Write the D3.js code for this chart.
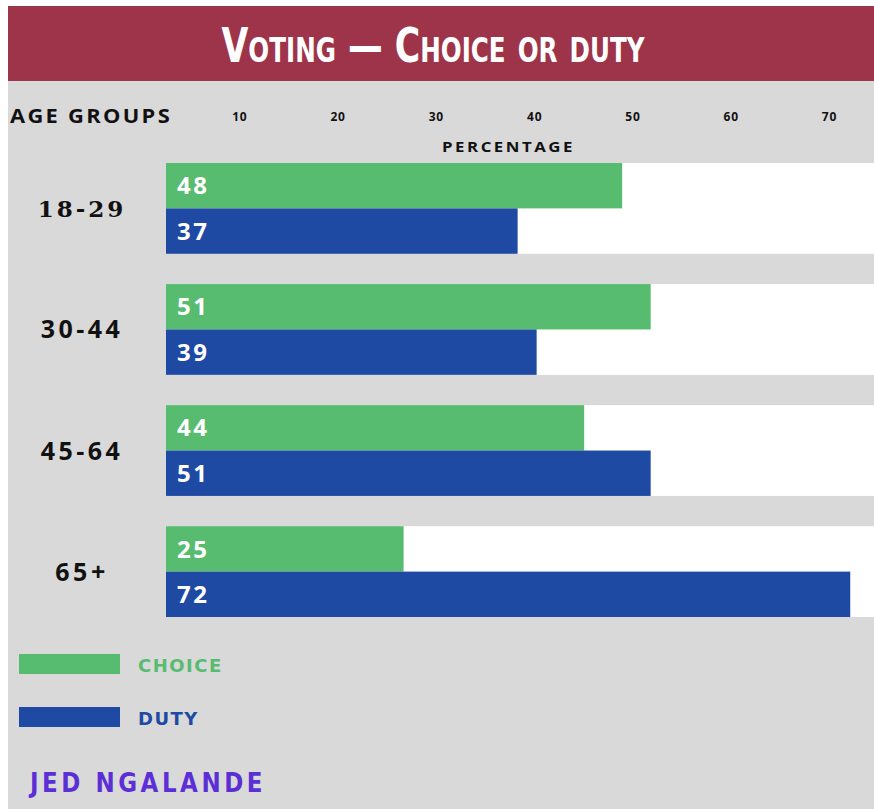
<!DOCTYPE html>
<html>
<head>
<meta charset="utf-8">
<script src="https://cdn.jsdelivr.net/npm/d3@7"></script>
<style>
  html, body { margin: 0; padding: 0; background: #ffffff; }
  svg { display: block; }
</style>
</head>
<body>
<div id="chart"></div>
<script>
// ---- data ----
const ageGroups = ["18-29", "30-44", "45-64", "65+"];
const seriesNames = ["CHOICE", "DUTY"];
const choiceValues = [48, 51, 44, 25];
const dutyValues = [37, 39, 51, 72];
const tickValues = [10, 20, 30, 40, 50, 60, 70];

const title = "Voting — Choice or duty";
const author = "JED NGALANDE";

const W = 874, H = 809;
const colors = { CHOICE: "#57bc6f", DUTY: "#1e4aa4" };
const banner = "#9e344a";
const bg = "#d9d9d9";

const svg = d3.select("#chart").append("svg")
  .attr("width", W).attr("height", H);

// background panels
svg.append("rect").attr("x", 0).attr("y", 0).attr("width", W).attr("height", H).attr("fill", "#ffffff");
svg.append("rect").attr("x", 8).attr("y", 80).attr("width", W - 8).attr("height", H - 80).attr("fill", bg);
svg.append("rect").attr("x", 8).attr("y", 6).attr("width", W - 8).attr("height", 75).attr("fill", banner);

// title
svg.append("text")
  .attr("x", 433).attr("y", 62)
  .attr("text-anchor", "middle")
  .attr("fill", "#ffffff")
  .style("font-family", "'DejaVu Sans Condensed', 'DejaVu Sans', sans-serif")
  .style("font-weight", "bold")
  .style("font-size", "48px")
  .style("font-variant", "small-caps")
  .attr("textLength", 423)
  .attr("lengthAdjust", "spacingAndGlyphs")
  .text(title);

// scales
const y = d3.scaleBand().domain(ageGroups).range([163, 617]).paddingInner(0.25).paddingOuter(0);
const ySub = d3.scaleBand().domain(seriesNames).range([0, y.bandwidth()]).padding(0);
const x = d3.scaleLinear().domain([0, 74.5]).range([166, 874]);
const xAxisScale = d3.scaleLinear().domain([0, 70]).range([141, 829]);

const sansBold = "'Open Sans', 'DejaVu Sans', sans-serif";

// header labels
svg.append("text")
  .attr("x", 10).attr("y", 123)
  .attr("fill", "#111")
  .style("font-family", sansBold).style("font-weight", "700")
  .style("font-size", "19px").style("letter-spacing", "2px")
  .attr("textLength", 162).attr("lengthAdjust", "spacingAndGlyphs")
  .text("AGE GROUPS");

// top axis tick labels
const axis = d3.axisTop(xAxisScale).tickValues(tickValues).tickSize(0).tickPadding(0);
const gAxis = svg.append("g").attr("transform", "translate(0,121)").call(axis);
gAxis.select(".domain").remove();
gAxis.selectAll("text")
  .attr("fill", "#111")
  .style("font-family", sansBold).style("font-weight", "700")
  .style("font-size", "12px").style("letter-spacing", "0.8px");

svg.append("text")
  .attr("x", 442).attr("y", 152)
  .attr("fill", "#111")
  .style("font-family", sansBold).style("font-weight", "700")
  .style("font-size", "14.5px").style("letter-spacing", "2.2px")
  .attr("textLength", 133).attr("lengthAdjust", "spacingAndGlyphs")
  .text("PERCENTAGE");

// rows
const rows = ageGroups.map((g, i) => ({ group: g, CHOICE: choiceValues[i], DUTY: dutyValues[i] }));

const gRow = svg.selectAll("g.row").data(rows).enter().append("g")
  .attr("class", "row")
  .attr("transform", d => `translate(0,${y(d.group)})`);

// white track
gRow.append("rect")
  .attr("x", x(0)).attr("y", 0)
  .attr("width", W - x(0)).attr("height", y.bandwidth())
  .attr("fill", "#ffffff");

// bars
gRow.selectAll("rect.bar")
  .data(d => seriesNames.map(s => ({ key: s, value: d[s] })))
  .enter().append("rect")
  .attr("class", "bar")
  .attr("x", x(0))
  .attr("y", d => ySub(d.key))
  .attr("width", d => Math.min(x(d.value), W) - x(0))
  .attr("height", ySub.bandwidth())
  .attr("fill", d => colors[d.key]);

// value labels
gRow.selectAll("text.val")
  .data(d => seriesNames.map(s => ({ key: s, value: d[s] })))
  .enter().append("text")
  .attr("class", "val")
  .attr("x", x(0) + 11)
  .attr("y", d => ySub(d.key) + ySub.bandwidth() / 2)
  .attr("dy", "0.36em")
  .attr("fill", "#ffffff")
  .style("font-family", sansBold).style("font-weight", "700")
  .style("font-size", "24px").style("letter-spacing", "2.5px")
  .text(d => d.value);

// category labels
gRow.append("text")
  .attr("x", 82)
  .attr("y", y.bandwidth() / 2)
  .attr("dy", "0.36em")
  .attr("text-anchor", "middle")
  .attr("fill", "#111")
  .style("font-family", (d, i) => i === 0 ? "'DejaVu Serif', serif" : sansBold)
  .style("font-weight", "700")
  .style("font-size", (d, i) => i === 0 ? "23px" : "25px")
  .style("letter-spacing", (d, i) => i === 0 ? "3px" : "3.5px")
  .text(d => d.group);

// legend
const legend = d3.scaleOrdinal().domain(seriesNames).range([654, 707]);
const gLeg = svg.selectAll("g.leg").data(seriesNames).enter().append("g")
  .attr("class", "leg")
  .attr("transform", d => `translate(19,${legend(d)})`);
gLeg.append("rect")
  .attr("x", 0).attr("y", 0).attr("width", 101).attr("height", 20)
  .attr("fill", d => colors[d]);
gLeg.append("text")
  .attr("x", 119).attr("y", 18)
  .attr("fill", d => colors[d])
  .style("font-family", "'DejaVu Sans', sans-serif").style("font-weight", "700")
  .style("font-size", "18px").style("letter-spacing", "1.5px")
  .text(d => d);

// author
svg.append("text")
  .attr("x", 30).attr("y", 792)
  .attr("fill", "#5b2ed6")
  .style("font-family", "'DejaVu Sans', sans-serif").style("font-weight", "700")
  .style("font-size", "26px").style("letter-spacing", "4px")
  .attr("textLength", 236).attr("lengthAdjust", "spacingAndGlyphs")
  .text(author);
</script>
</body>
</html>
